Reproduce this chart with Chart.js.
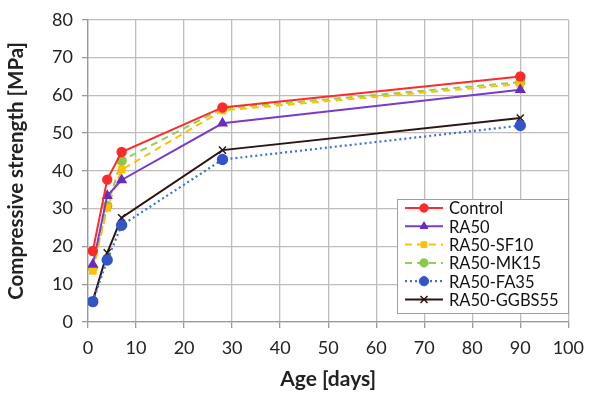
<!DOCTYPE html>
<html><head><meta charset="utf-8">
<script src="https://cdn.jsdelivr.net/npm/chart.js@4/dist/chart.umd.min.js"></script>
<style>html,body{margin:0;padding:0;background:#fff}#wrap{width:593px;height:396px}</style>
</head><body><div id="wrap"><canvas id="c" width="593" height="396"></canvas></div>
<script>
const ages = [1, 4, 7, 28, 90];
const seriesNames = ["Control", "RA50", "RA50-SF10", "RA50-MK15", "RA50-FA35", "RA50-GGBS55"];
const control = [18.8, 37.7, 45.0, 56.8, 65.0];
const ra50 = [15.2, 33.4, 37.6, 52.6, 61.5];
const ra50sf10 = [13.5, 30.2, 40.3, 56.0, 63.0];
const ra50mk15 = [14.4, 30.7, 42.7, 56.5, 63.5];
const ra50fa35 = [5.4, 16.4, 25.6, 43.0, 52.0];
const ra50ggbs55 = [5.6, 18.3, 27.6, 45.5, 54.0];
const xTicks = [0, 10, 20, 30, 40, 50, 60, 70, 80, 90, 100];
const yTicks = [0, 10, 20, 30, 40, 50, 60, 70, 80];

const FONT = "Lato, 'DejaVu Sans', sans-serif";
const mk = (vals) => ages.map((a, i) => ({x: a, y: vals[i]}));
const datasets = [
  {label: seriesNames[0], data: mk(control), borderColor: '#ff2a2a', backgroundColor: '#ff2a2a', pointStyle: 'circle', pointRadius: 4.2, borderWidth: 2},
  {label: seriesNames[1], data: mk(ra50), borderColor: '#7a3cc8', backgroundColor: '#6a2cc0', pointStyle: 'triangle', pointRadius: 4.5, borderWidth: 2},
  {label: seriesNames[2], data: mk(ra50sf10), borderColor: '#ffc000', backgroundColor: '#ffc000', pointStyle: 'rect', pointRadius: 4, borderWidth: 2, borderDash: [7, 5]},
  {label: seriesNames[3], data: mk(ra50mk15), borderColor: '#92d050', backgroundColor: '#8cc84a', pointStyle: 'circle', pointRadius: 4.2, borderWidth: 2, borderDash: [7, 5]},
  {label: seriesNames[4], data: mk(ra50fa35), borderColor: '#3f6fd8', backgroundColor: '#3355c8', pointStyle: 'circle', pointRadius: 4.6, borderWidth: 2.2, borderDash: [2, 3]},
  {label: seriesNames[5], data: mk(ra50ggbs55), borderColor: '#2a1414', backgroundColor: '#2a1414', pointStyle: 'crossRot', pointRadius: 5, borderWidth: 2, pointBorderWidth: 1.5},
];
datasets.forEach(d => { d.showLine = true; d.tension = 0; d.pointBorderColor = d.pointStyle === 'crossRot' ? '#2a1414' : d.backgroundColor; });

const legendBox = {
  id: 'legendBox',
  afterDraw(chart) {
    const ctx = chart.ctx;
    const x0 = 397, y0 = 199, w = 171, h = 114;
    ctx.save();
    ctx.fillStyle = '#fff';
    ctx.fillRect(x0, y0, w, h);
    ctx.strokeStyle = '#a0a0a0';
    ctx.lineWidth = 1;
    ctx.strokeRect(x0 + 0.5, y0 + 0.5, w, h);
    chart.data.datasets.forEach((d, i) => {
      const y = y0 + 9 + i * 18.3;
      ctx.strokeStyle = d.borderColor;
      ctx.lineWidth = d.borderWidth;
      ctx.setLineDash(d.borderDash || []);
      ctx.beginPath(); ctx.moveTo(405, y); ctx.lineTo(443, y); ctx.stroke();
      ctx.setLineDash([]);
      ctx.fillStyle = d.backgroundColor;
      ctx.strokeStyle = d.pointBorderColor;
      ctx.lineWidth = d.pointBorderWidth || 1;
      Chart.helpers.drawPoint(ctx, {pointStyle: d.pointStyle, radius: d.pointRadius, borderWidth: d.pointBorderWidth || 1}, 424, y);
      ctx.fillStyle = '#111';
      ctx.font = "16.5px " + FONT;
      ctx.textBaseline = 'middle';
      ctx.textAlign = 'left';
      ctx.fillText(d.label, 449, y + 1);
    });
    ctx.restore();
  }
};

new Chart(document.getElementById('c'), {
  type: 'scatter',
  data: {datasets},
  plugins: [legendBox],
  options: {
    responsive: false,
    animation: false,
    devicePixelRatio: 1,
    layout: {padding: {left: 0, right: 23, top: 12, bottom: 0}},
    plugins: {legend: {display: false}, tooltip: {enabled: false}},
    scales: {
      x: {
        type: 'linear', min: 0, max: 100,
        afterBuildTicks: (s) => { s.ticks = xTicks.map(v => ({value: v})); },
        afterFit: (s) => { s.height = 74; },
        grid: {color: '#bdbdbd', lineWidth: 1.3, tickLength: 6, tickColor: '#9a9a9a'},
        border: {color: '#9a9a9a', width: 1.3},
        ticks: {color: '#222', font: {family: FONT, size: 18}, padding: 9, maxRotation: 0},
        title: {display: true, text: 'Age [days]', color: '#222', font: {family: FONT, size: 21, weight: 'bold'}, padding: {top: 0}}
      },
      y: {
        type: 'linear', min: 0, max: 80,
        afterBuildTicks: (s) => { s.ticks = yTicks.map(v => ({value: v})); },
        afterFit: (s) => { s.width = 88; },
        grid: {color: '#bdbdbd', lineWidth: 1.3, tickLength: 6, tickColor: '#9a9a9a'},
        border: {color: '#9a9a9a', width: 1.3},
        ticks: {color: '#222', font: {family: FONT, size: 18}, padding: 9},
        title: {display: true, text: 'Compressive strength [MPa]', color: '#222', font: {family: FONT, size: 20.5, weight: 'bold'}, padding: {top: 4, bottom: 2}}
      }
    }
  }
});
</script></body></html>
